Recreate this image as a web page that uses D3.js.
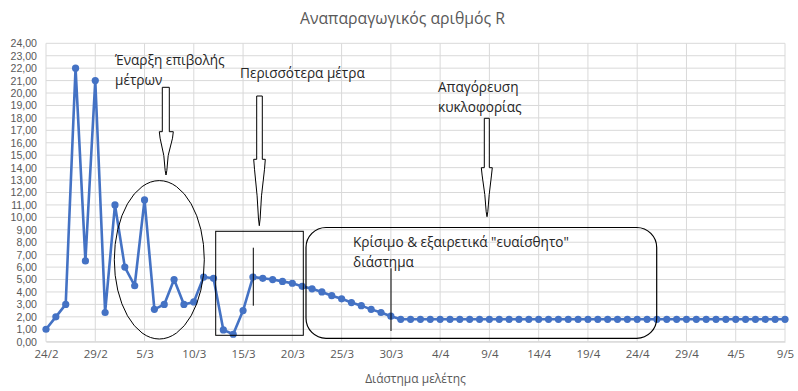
<!DOCTYPE html>
<html>
<head>
<meta charset="utf-8">
<script src="https://cdn.jsdelivr.net/npm/d3@7"></script>
<style>
  html, body { margin: 0; padding: 0; background: #fff; }
  svg { display: block; }
  text { font-family: "Open Sans", "Noto Sans", sans-serif; }
</style>
</head>
<body>
<svg id="chart" width="798" height="391"></svg>
<script>
// ---- data ----
const title = "Αναπαραγωγικός αριθμός R";
const xTitle = "Διάστημα μελέτης";
const startDate = new Date(2020, 1, 24); // 24/2
const endDate = new Date(2020, 4, 9);    // 9/5
const tickLabels = ["24/2","29/2","5/3","10/3","15/3","20/3","25/3","30/3","4/4","9/4","14/4","19/4","24/4","29/4","4/5","9/5"];
const yTicks = [0,1,2,3,4,5,6,7,8,9,10,11,12,13,14,15,16,17,18,19,20,21,22,23,24];
const rValues = [
  1.0, 2.0, 3.0, 22.0, 6.5, 21.0, 2.35, 11.0, 6.0, 4.5,
  11.4, 2.6, 3.0, 5.0, 3.0, 3.2, 5.2, 5.1, 0.95, 0.6,
  2.5, 5.2, 5.1, 5.0, 4.85, 4.7, 4.45, 4.25, 4.0, 3.7,
  3.45, 3.15, 2.9, 2.6, 2.35, 2.05, 1.8, 1.8, 1.8, 1.8,
  1.8, 1.8, 1.8, 1.8, 1.8, 1.8, 1.8, 1.8, 1.8, 1.8,
  1.8, 1.8, 1.8, 1.8, 1.8, 1.8, 1.8, 1.8, 1.8, 1.8,
  1.8, 1.8, 1.8, 1.8, 1.8, 1.8, 1.8, 1.8, 1.8, 1.8,
  1.8, 1.8, 1.8, 1.8, 1.8, 1.8
];
const annotations = [
  { lines: ["Έναρξη επιβολής", "μέτρων"], x: 115, y: 65 },
  { lines: ["Περισσότερα μέτρα"], x: 240, y: 78 },
  { lines: ["Απαγόρευση", "κυκλοφορίας"], x: 438, y: 92 },
  { lines: ["Κρίσιμο & εξαιρετικά \"ευαίσθητο\"", "διάστημα"], x: 353, y: 247 }
];

// ---- layout ----
const svg = d3.select("#chart");
const pL = 46, pR = 785, pT = 43.3, pB = 341.7;
const dates = d3.timeDay.range(startDate, d3.timeDay.offset(endDate, 1));
const data = dates.map((d, i) => ({ date: d, v: rValues[i] }));

const x = d3.scaleTime().domain([startDate, endDate]).range([pL, pR]);
const y = d3.scaleLinear().domain([0, 24]).range([pB, pT]);
const tickDates = tickLabels.map((_, i) => d3.timeDay.offset(startDate, i * 5));

const gridColor = "#d9d9d9";
const textColor = "#595959";

// horizontal gridlines
svg.append("g").selectAll("line").data(yTicks).join("line")
  .attr("x1", pL).attr("x2", pR)
  .attr("y1", d => y(d)).attr("y2", d => y(d))
  .attr("stroke", gridColor).attr("stroke-width", 1);
// vertical gridlines
svg.append("g").selectAll("line").data(tickDates).join("line")
  .attr("x1", d => x(d)).attr("x2", d => x(d))
  .attr("y1", pT).attr("y2", pB)
  .attr("stroke", gridColor).attr("stroke-width", 1);

// y axis
const yAxis = d3.axisLeft(y).tickValues(yTicks).tickSize(0).tickPadding(9)
  .tickFormat(d => d3.format(".2f")(d).replace(".", ","));
const gy = svg.append("g").attr("transform", `translate(${pL},0)`).call(yAxis);
gy.select(".domain").remove();
gy.selectAll("text").attr("fill", textColor)
  .style("font-family", "'Liberation Sans', Arial, sans-serif").style("font-size", "10.6px");

// x axis
const xAxis = d3.axisBottom(x).tickValues(tickDates).tickSize(0).tickPadding(8)
  .tickFormat((d, i) => tickLabels[i]);
const gx = svg.append("g").attr("transform", `translate(0,${pB})`).call(xAxis);
gx.select(".domain").attr("stroke", gridColor);
gx.selectAll("text").attr("fill", textColor).style("font-size", "11.5px");

// titles
svg.append("text").attr("x", 402.5).attr("y", 24).attr("text-anchor", "middle")
  .attr("fill", textColor).style("font-size", "15.8px").text(title);
svg.append("text").attr("x", 415.5).attr("y", 383).attr("text-anchor", "middle")
  .attr("fill", textColor).style("font-size", "12px").text(xTitle);

// series
const blue = "#4472C4";
svg.append("path").datum(data)
  .attr("fill", "none").attr("stroke", blue).attr("stroke-width", 2.6)
  .attr("stroke-linejoin", "round")
  .attr("d", d3.line().x(d => x(d.date)).y(d => y(d.v)));
svg.append("g").selectAll("circle").data(data).join("circle")
  .attr("cx", d => x(d.date)).attr("cy", d => y(d.v)).attr("r", 3.6)
  .attr("fill", blue);

// ---- annotation shapes ----
const ink = "#000";
svg.append("ellipse").attr("cx", 159.3).attr("cy", 259.8).attr("rx", 45).attr("ry", 79.2)
  .attr("fill", "none").attr("stroke", ink).attr("stroke-width", 1);
svg.append("rect").attr("x", 215.7).attr("y", 231.3).attr("width", 87.6).attr("height", 104)
  .attr("fill", "none").attr("stroke", ink).attr("stroke-width", 1);
svg.append("rect").attr("x", 306).attr("y", 227.5).attr("width", 350.7).attr("height", 110.8)
  .attr("rx", 20).attr("ry", 20)
  .attr("fill", "none").attr("stroke", ink).attr("stroke-width", 1.2);
svg.append("line").attr("x1", 253.3).attr("x2", 253.3).attr("y1", 247.7).attr("y2", 305.7)
  .attr("stroke", ink).attr("stroke-width", 1);
svg.append("line").attr("x1", 391).attr("x2", 391).attr("y1", 268.3).attr("y2", 331)
  .attr("stroke", ink).attr("stroke-width", 1);

function arrow(sl, sr, t, sb, hl, hr, tx, ty) {
  const h = ty - sb;
  const p = d3.path();
  p.moveTo(sl, t); p.lineTo(sr, t); p.lineTo(sr, sb); p.lineTo(hr, sb);
  p.lineTo(hr - 0.8, sb + h * 0.15);
  p.lineTo(tx + 2.2, sb + h * 0.55);
  p.lineTo(tx + 0.8, sb + h * 0.9);
  p.lineTo(tx, ty);
  p.lineTo(tx - 0.8, sb + h * 0.9);
  p.lineTo(tx - 2.2, sb + h * 0.55);
  p.lineTo(hl + 0.8, sb + h * 0.15);
  p.lineTo(hl, sb); p.lineTo(sl, sb); p.closePath();
  svg.append("path").attr("d", p.toString())
    .attr("fill", "#fff").attr("stroke", ink).attr("stroke-width", 1);
}
arrow(162.3, 169.3, 87.3, 131.7, 159.3, 173.3, 166, 175);
arrow(256.7, 262.3, 96, 159.3, 253.7, 265.3, 259.3, 225.7);
arrow(484.3, 489.3, 118.3, 167.7, 481.3, 492.3, 487, 216.7);

annotations.forEach(a => {
  const t = svg.append("text").attr("x", a.x).attr("y", a.y)
    .attr("fill", "#262626").style("font-size", "13.6px");
  a.lines.forEach((ln, i) => {
    t.append("tspan").attr("x", a.x).attr("dy", i === 0 ? 0 : 19.5).text(ln);
  });
});
</script>
</body>
</html>
